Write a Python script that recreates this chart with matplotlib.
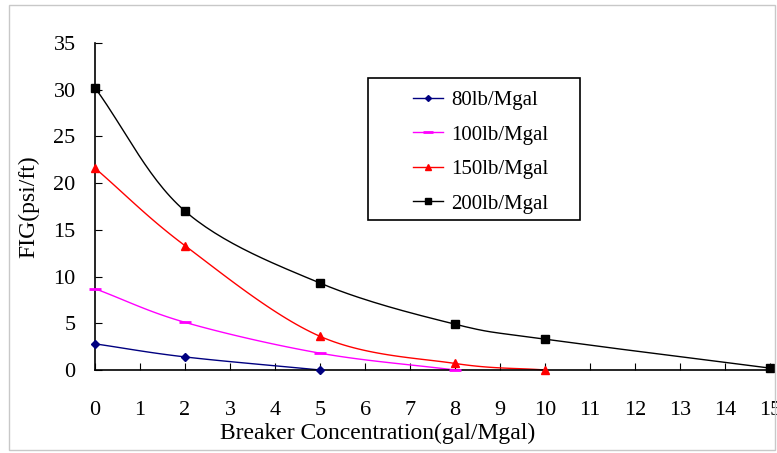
import numpy as np
import matplotlib.pyplot as plt
from matplotlib.patches import Rectangle

# data
x80 = [0, 2, 5]
y80 = [2.8, 1.4, 0.0]
x100 = [0, 2, 5, 8]
y100 = [8.7, 5.1, 1.8, 0.0]
x150 = [0, 2, 5, 8, 10]
y150 = [21.6, 13.3, 3.6, 0.7, 0.0]
x200 = [0, 2, 5, 8, 10, 15]
y200 = [30.2, 17.0, 9.3, 4.9, 3.3, 0.2]
labels = ['80lb/Mgal', '100lb/Mgal', '150lb/Mgal', '200lb/Mgal']


def smooth(xs, ys, n=30):
    # Catmull-Rom style smoothing, like excel "smoothed line"
    xs = np.asarray(xs, float)
    ys = np.asarray(ys, float)
    px = np.concatenate([[2 * xs[0] - xs[1]], xs, [2 * xs[-1] - xs[-2]]])
    py = np.concatenate([[2 * ys[0] - ys[1]], ys, [2 * ys[-1] - ys[-2]]])
    outx, outy = [], []
    for i in range(1, len(px) - 2):
        t = np.linspace(0, 1, n)
        h00 = 2 * t**3 - 3 * t**2 + 1
        h10 = t**3 - 2 * t**2 + t
        h01 = -2 * t**3 + 3 * t**2
        h11 = t**3 - t**2
        mx0 = (px[i + 1] - px[i - 1]) / 2
        mx1 = (px[i + 2] - px[i]) / 2
        my0 = (py[i + 1] - py[i - 1]) / 2
        my1 = (py[i + 2] - py[i]) / 2
        outx.append(h00 * px[i] + h10 * mx0 + h01 * px[i + 1] + h11 * mx1)
        outy.append(h00 * py[i] + h10 * my0 + h01 * py[i + 1] + h11 * my1)
    return np.concatenate(outx), np.clip(np.concatenate(outy), 0, None)


plt.rcParams['font.family'] = ['Liberation Serif', 'DejaVu Serif']

fig = plt.figure(figsize=(7.77, 4.53), dpi=100)
ax = fig.add_axes([0.1223, 0.1832, 0.869, 0.722])

series = [
    (x80, y80, '#000080', 'D', 4),
    (x100, y100, '#ff00ff', '_', 8),
    (x150, y150, '#ff0000', '^', 6),
    (x200, y200, '#000000', 's', 6),
]
for (xs, ys, col, mk, ms), lab in zip(series, labels):
    sx, sy = smooth(xs, ys)
    ax.plot(sx, sy, color=col, linewidth=1, clip_on=False)
    ax.plot(xs, ys, linestyle='none', marker=mk, color=col, markersize=ms,
            markeredgewidth=2 if mk == '_' else 1, clip_on=False, zorder=3)
    ax.plot([], [], color=col, marker=mk, markersize=ms - 1, linewidth=1,
            markeredgewidth=2 if mk == '_' else 1, label=lab)

ax.set_xlim(0, 15)
ax.set_ylim(0, 35)
ax.set_xticks(range(0, 16))
ax.set_yticks(range(0, 36, 5))
ax.spines['top'].set_visible(False)
ax.spines['right'].set_visible(False)
ax.spines['left'].set_linewidth(1.2)
ax.spines['bottom'].set_linewidth(1.2)
ax.tick_params(axis='x', direction='in', length=5, pad=22, labelsize=16, colors='black')
ax.tick_params(axis='y', direction='in', length=5, pad=14, labelsize=16)
ax.set_xlabel('Breaker Concentration(gal/Mgal)', fontsize=17)
ax.xaxis.set_label_coords(0.418, -0.162)
ax.set_ylabel('FIG(psi/ft)', fontsize=17, labelpad=10)

# legend entries without frame, frame drawn separately (wide left margin like excel)
leg = ax.legend(loc='upper left', bbox_to_anchor=(0.471, 0.855), fontsize=15,
                frameon=False, handlelength=1.45, handletextpad=0.4,
                borderpad=0, labelspacing=0.72, borderaxespad=0)
ax.add_patch(Rectangle((0.4044, 0.4587), 0.3141, 0.4343, transform=ax.transAxes,
                       fill=False, edgecolor='black', linewidth=1.2, zorder=4))

fig.patches.append(Rectangle((0.011, 0.006), 0.986, 0.983, transform=fig.transFigure,
                             fill=False, edgecolor='#c8c8c8', linewidth=1))

fig.savefig('out.png', dpi=100)
